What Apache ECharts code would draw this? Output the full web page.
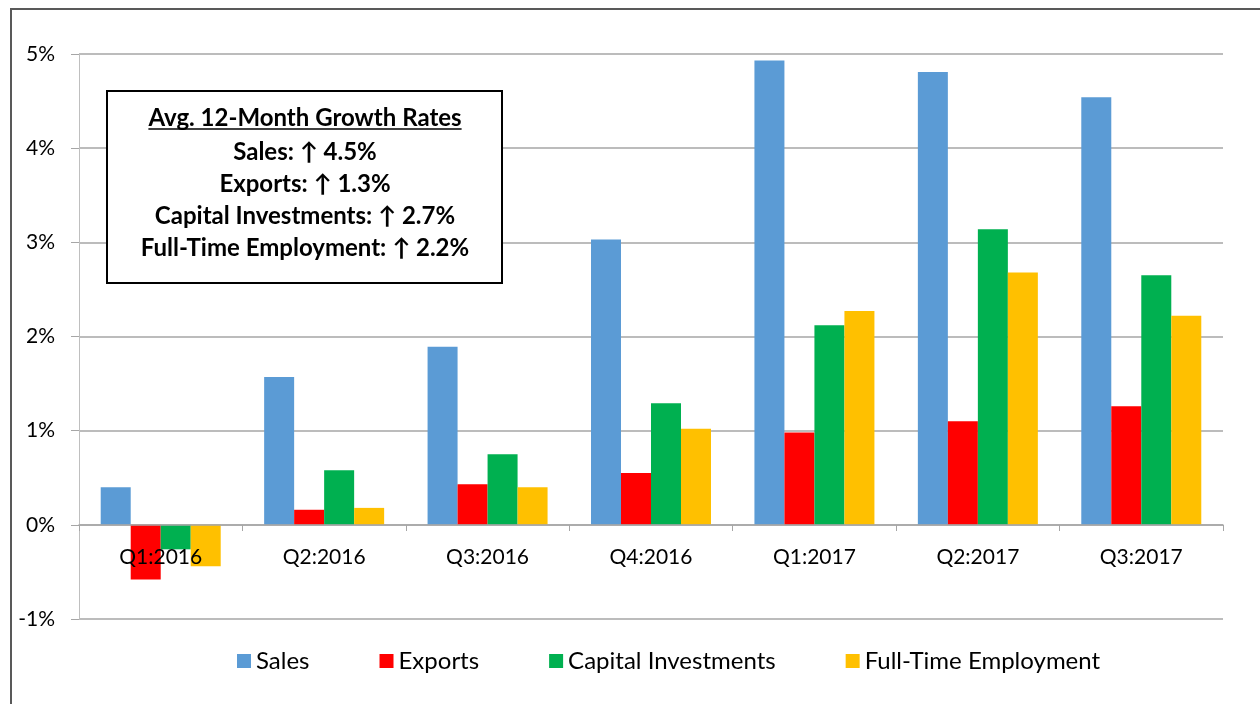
<!DOCTYPE html>
<html>
<head>
<meta charset="utf-8">
<title>Growth Rates</title>
<script src="https://cdn.jsdelivr.net/npm/echarts@6.0.0/dist/echarts.min.js"></script>
<style>
  html, body { margin: 0; padding: 0; background: #fff; }
  #chart { width: 1260px; height: 704px; }
</style>
</head>
<body>
<div id="chart"></div>
<script>
// quarters on the x axis
const categories = ['Q1:2016', 'Q2:2016', 'Q3:2016', 'Q4:2016', 'Q1:2017', 'Q2:2017', 'Q3:2017']
// growth rates in percent
const sales = [0.40, 1.57, 1.89, 3.03, 4.93, 4.81, 4.54]
const exportsData = [-0.58, 0.16, 0.43, 0.55, 0.98, 1.10, 1.26]
const capital = [-0.26, 0.58, 0.75, 1.29, 2.12, 3.14, 2.65]
const fullTime = [-0.44, 0.18, 0.40, 1.02, 2.27, 2.68, 2.22]
const seriesNames = ['Sales', 'Exports', 'Capital Investments', 'Full-Time Employment']
// text of the summary box
const boxTitle = 'Avg. 12-Month Growth Rates'
const boxLines = ['Sales: \u2191 4.5%', 'Exports: \u2191 1.3%', 'Capital Investments: \u2191 2.7%', 'Full-Time Employment: \u2191 2.2%']

const FONT = 'Lato, "Open Sans", sans-serif'
const colors = ['#5B9BD5', '#FF0000', '#00B050', '#FFC000']

const chart = echarts.init(document.getElementById('chart'))

// width of the title, for the underline
const ctx = document.createElement('canvas').getContext('2d')
ctx.font = 'bold 24px Lato'
const titleW = ctx.measureText(boxTitle).width

const boxCx = 305
const graphics = [
  // outer frame of the picture
  { type: 'rect', shape: { x: 11, y: 9, width: 1300, height: 760 },
    style: { fill: 'none', stroke: '#595959', lineWidth: 2 }, z: 100 },
  // summary box
  { type: 'rect', shape: { x: 107, y: 91, width: 395, height: 192 },
    style: { fill: '#fff', stroke: '#000', lineWidth: 2 }, z: 100 },
  { type: 'text', x: boxCx, y: 118, z: 101,
    style: { text: boxTitle, font: 'bold 24px ' + FONT, fill: '#000', align: 'center', verticalAlign: 'middle' } },
  { type: 'line', z: 101, shape: { x1: boxCx - titleW / 2, y1: 129, x2: boxCx + titleW / 2, y2: 129 },
    style: { stroke: '#000', lineWidth: 1.5 } }
]
boxLines.forEach((t, i) => {
  graphics.push({ type: 'text', x: boxCx, y: 152 + i * 32, z: 101,
    style: { text: t, font: 'bold 24px ' + FONT, fill: '#000', align: 'center', verticalAlign: 'middle' } })
})

const values = [sales, exportsData, capital, fullTime]

chart.setOption({
  backgroundColor: '#fff',
  animation: false,
  textStyle: { fontFamily: FONT },
  grid: { left: 79, right: 37, top: 54, bottom: 85 },
  legend: {
    data: seriesNames,
    left: 232,
    top: 644,
    itemWidth: 14,
    itemHeight: 14,
    itemGap: 70,
    icon: 'rect',
    textStyle: { fontSize: 24, color: '#000', fontFamily: FONT }
  },
  xAxis: {
    type: 'category',
    data: categories,
    z: 10,
    // the axis sits on the 0% line: one step of 94px above the grid bottom
    offset: -94,
    axisLine: { onZero: false, lineStyle: { color: '#A6A6A6', width: 1.5 } },
    axisTick: { show: true, length: 6, lineStyle: { color: '#A6A6A6' } },
    axisLabel: { fontSize: 21, color: '#000', margin: 22, fontFamily: FONT }
  },
  yAxis: {
    type: 'value',
    min: -1,
    max: 5,
    interval: 1,
    axisLine: { show: true, lineStyle: { color: '#BFBFBF' } },
    axisTick: { show: true, length: 8, lineStyle: { color: '#A6A6A6' } },
    axisLabel: { formatter: '{value}%', fontSize: 21, color: '#000', margin: 24, fontFamily: FONT },
    splitLine: { lineStyle: { color: '#A6A6A6', width: 1.5 } }
  },
  series: seriesNames.map((name, i) => ({
    name: name,
    type: 'bar',
    data: values[i],
    barWidth: 30,
    barGap: '0%',
    itemStyle: { color: colors[i] }
  })),
  graphic: graphics
})
</script>
</body>
</html>
